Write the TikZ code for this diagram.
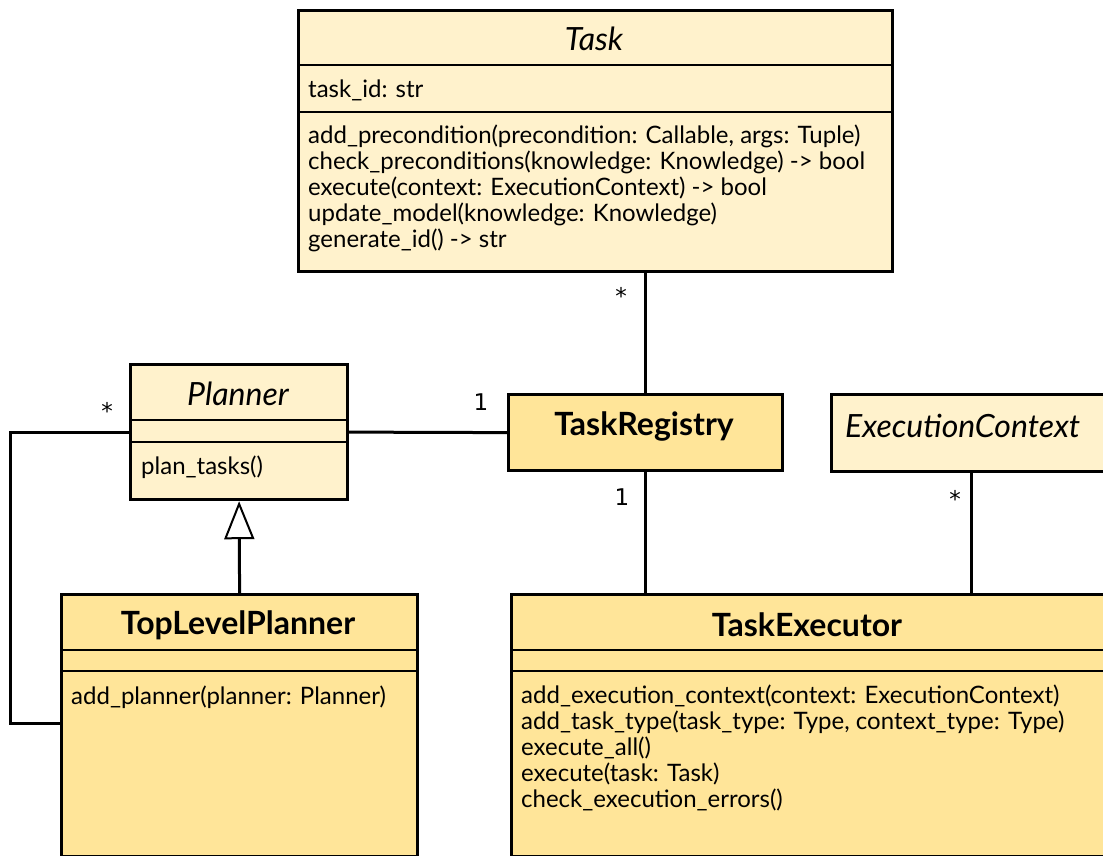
\documentclass[tikz,border=0pt]{standalone}
\usepackage{fontspec}
\setmainfont{Lato}
\newfontfamily\multfont{DejaVu Sans}
\usepackage{tikz}
\usetikzlibrary{arrows.meta}
\definecolor{clslight}{HTML}{FFF2CC}
\definecolor{clsdark}{HTML}{FFE599}

\begin{document}
\begin{tikzpicture}
		[x=1pt,y=-1pt,
		 cls/.style={draw=black,line width=3.2pt,anchor=north west,inner sep=0pt,fill=clslight},
		 clsd/.style={cls,fill=clsdark},
		 sep/.style={line width=1.6pt},
		 ttl/.style={font=\fontsize{32}{36}\selectfont},
		 mem/.style={font=\fontsize{24}{26}\selectfont,anchor=west,inner sep=0pt,align=left},
		 mult/.style={font=\multfont\fontsize{23}{26}\selectfont,inner sep=0pt},
		 assoc/.style={line width=3pt}]

		\useasboundingbox (0,0) rectangle (1103,855);

		\node[cls,minimum width=594pt,minimum height=261pt] (task) at (297,9) {};
		\node[cls,minimum width=217pt,minimum height=135pt] (planner) at (129,363) {};
		\node[clsd,minimum width=274pt,minimum height=76pt] (reg) at (507,393) {};
		\node[cls,minimum width=280pt,minimum height=77pt] (ctx) at (830,393) {};
		\node[clsd,minimum width=356pt,minimum height=262pt] (tlp) at (60,593) {};
		\node[clsd,minimum width=595pt,minimum height=262pt] (exec) at (510,593) {};

		\draw[sep] (297,65) -- (891,65) (297,112) -- (891,112);
		\draw[sep] (129,420) -- (346,420) (129,442) -- (346,442);
		\draw[sep] (60,650) -- (416,650) (60,671) -- (416,671);
		\draw[sep] (510,650) -- (1105,650) (510,671) -- (1105,671);

		\node[ttl,font=\fontsize{32}{36}\selectfont\itshape] (tasktitle) at (594,39) {Task};
		\node[mem] (taskattr) at (308,90) {task\_id: str};
		\node[mem,anchor=north west] (taskops) at (308,125) {add\_precondition(precondition: Callable, args: Tuple)\\
			check\_preconditions(knowledge: Knowledge) -> bool\\
			execute(context: ExecutionContext) -> bool\\
			update\_model(knowledge: Knowledge)\\
			generate\_id() -> str};

		\node[ttl,font=\fontsize{32}{36}\selectfont\itshape] (plannertitle) at (238,394) {Planner};
		\node[mem] (plannerops) at (141,467) {plan\_tasks()};

		\node[ttl,font=\fontsize{32}{36}\selectfont\bfseries] (regtitle) at (644,426) {TaskRegistry};
		\node[ttl,font=\fontsize{32}{36}\selectfont\itshape,anchor=west,inner sep=0pt] (ctxtitle) at (845,426) {ExecutionContext};

		\node[ttl,font=\fontsize{32}{36}\selectfont\bfseries] (tlptitle) at (238,625) {TopLevelPlanner};
		\node[mem] (tlpops) at (71,697) {add\_planner(planner: Planner)};

		\node[ttl,font=\fontsize{32}{36}\selectfont\bfseries] (exectitle) at (807,625) {TaskExecutor};
		\node[mem,anchor=north west] (execops) at (521,685) {add\_execution\_context(context: ExecutionContext)\\
			add\_task\_type(task\_type: Type, context\_type: Type)\\
			execute\_all()\\
			execute(task: Task)\\
			check\_execution\_errors()};

		\coordinate (loop) at (10,723);

		\draw[assoc] (task.south -| reg.north) -- (reg.north);
		\draw[assoc] (planner.east) -- (reg.west);
		\draw[assoc] (reg.south) -- (reg.south |- exec.north);
		\draw[assoc] (ctx.south) -- (ctx.south |- exec.north);
		\draw[assoc] (planner.west) -| (loop) -- (loop -| tlp.west);
		\draw[assoc,-{Triangle[open,width=30pt,length=38pt,fill=white,line width=2pt]}] (tlp.north) -- (planner.south);

		\node[mult] (m1) at (621,296) {*};
		\node[mult] (m2) at (481,402) {1};
		\node[mult] (m3) at (107,411) {*};
		\node[mult] (m4) at (622,497) {1};
		\node[mult] (m5) at (955,499) {*};

	\end{tikzpicture}
\end{document}
